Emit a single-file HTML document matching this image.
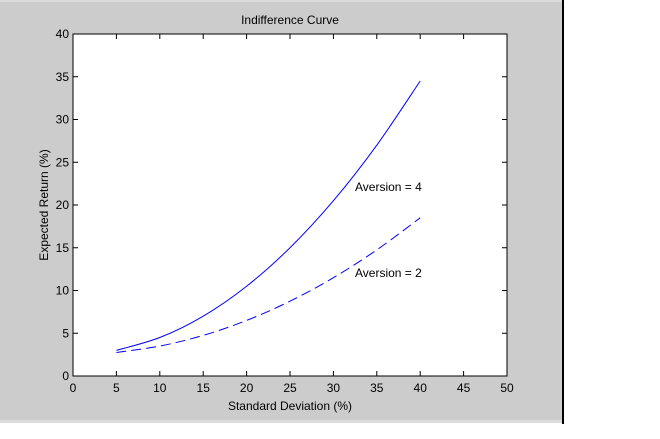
<!DOCTYPE html>
<html><head><meta charset="utf-8"><style>
body{margin:0;width:660px;height:439px;background:#fff;overflow:hidden;font-family:"Liberation Sans",sans-serif}
svg{display:block}
text{font-family:"Liberation Sans",sans-serif;font-size:12px;fill:#000}
</style></head><body>
<svg width="660" height="439">
<rect x="0" y="0" width="563" height="423" fill="#cccccc"/>
<rect x="0" y="0" width="563" height="2" fill="#dcdcdc"/>
<rect x="0" y="420" width="563" height="3" fill="#dcdcdc"/>
<rect x="562" y="0" width="2" height="424" fill="#000"/>
<rect x="73" y="34" width="434" height="342" fill="#fff" stroke="#000" stroke-width="1"/>
<g id="ticks"></g>
<g id="curves"></g>
<text x="290" y="24" text-anchor="middle">Indifference Curve</text>
<text x="290" y="410" text-anchor="middle">Standard Deviation (%)</text>
<text x="0" y="0" text-anchor="middle" transform="translate(48,205) rotate(-90)">Expected Return (%)</text>
<text x="355" y="191">Aversion = 4</text>
<text x="355" y="277">Aversion = 2</text>
</svg>
<script>
const xTicks=[0,5,10,15,20,25,30,35,40,45,50];
const yTicks=[0,5,10,15,20,25,30,35,40];
const sigma=[5,10,15,20,25,30,35,40];
const aversion4=[3,4.5,7,10.5,15,20.5,27,34.5];
const aversion2=[2.75,3.5,4.75,6.5,8.75,11.5,14.75,18.5];
const X=v=>73+v/50*434, Y=v=>376-v/40*342;
const NS="http://www.w3.org/2000/svg";
const tg=document.getElementById('ticks');
function mk(tag,attrs,parent){const e=document.createElementNS(NS,tag);for(const k in attrs)e.setAttribute(k,attrs[k]);parent.appendChild(e);return e;}
xTicks.forEach(t=>{
 const l=mk('line',{x1:X(t),x2:X(t),y1:376,y2:371,stroke:'#000'},tg);
 
 
 const l2=mk('line',{x1:X(t),x2:X(t),y1:34,y2:39,stroke:'#000'},tg);
 
 
 const tx=mk('text',{x:X(t),y:392,'text-anchor':'middle'},tg);tx.textContent=t;
 
 
});
yTicks.forEach(t=>{
 const l=mk('line',{x1:73,x2:78,y1:Y(t),y2:Y(t),stroke:'#000'},tg);
 
 
 const l2=mk('line',{x1:507,x2:502,y1:Y(t),y2:Y(t),stroke:'#000'},tg);
 
 
 const tx=mk('text',{x:69,y:Y(t)+4,'text-anchor':'end'},tg);tx.textContent=t;
 
 
});
function pathFor(vals){
 const p=sigma.map((s,i)=>[X(s),Y(vals[i])]);
 let d=`M${p[0][0]},${p[0][1]}`;
 for(let i=0;i<p.length-1;i++){
  const p0=p[i-1]||p[i],p1=p[i],p2=p[i+1],p3=p[i+2]||p2;
  const c1=[p1[0]+(p2[0]-p0[0])/6,p1[1]+(p2[1]-p0[1])/6];
  const c2=[p2[0]-(p3[0]-p1[0])/6,p2[1]-(p3[1]-p1[1])/6];
  d+=` C${c1[0]},${c1[1]} ${c2[0]},${c2[1]} ${p2[0]},${p2[1]}`;
 }
 return d;
}
const cg=document.getElementById('curves');
const c4=mk('path',{d:pathFor(aversion4),fill:'none',stroke:'#0000ff','stroke-width':1},cg);


const c2=mk('path',{d:pathFor(aversion2),fill:'none',stroke:'#0000ff','stroke-width':1,'stroke-dasharray':'10 5'},cg);


</script>
</body></html>
